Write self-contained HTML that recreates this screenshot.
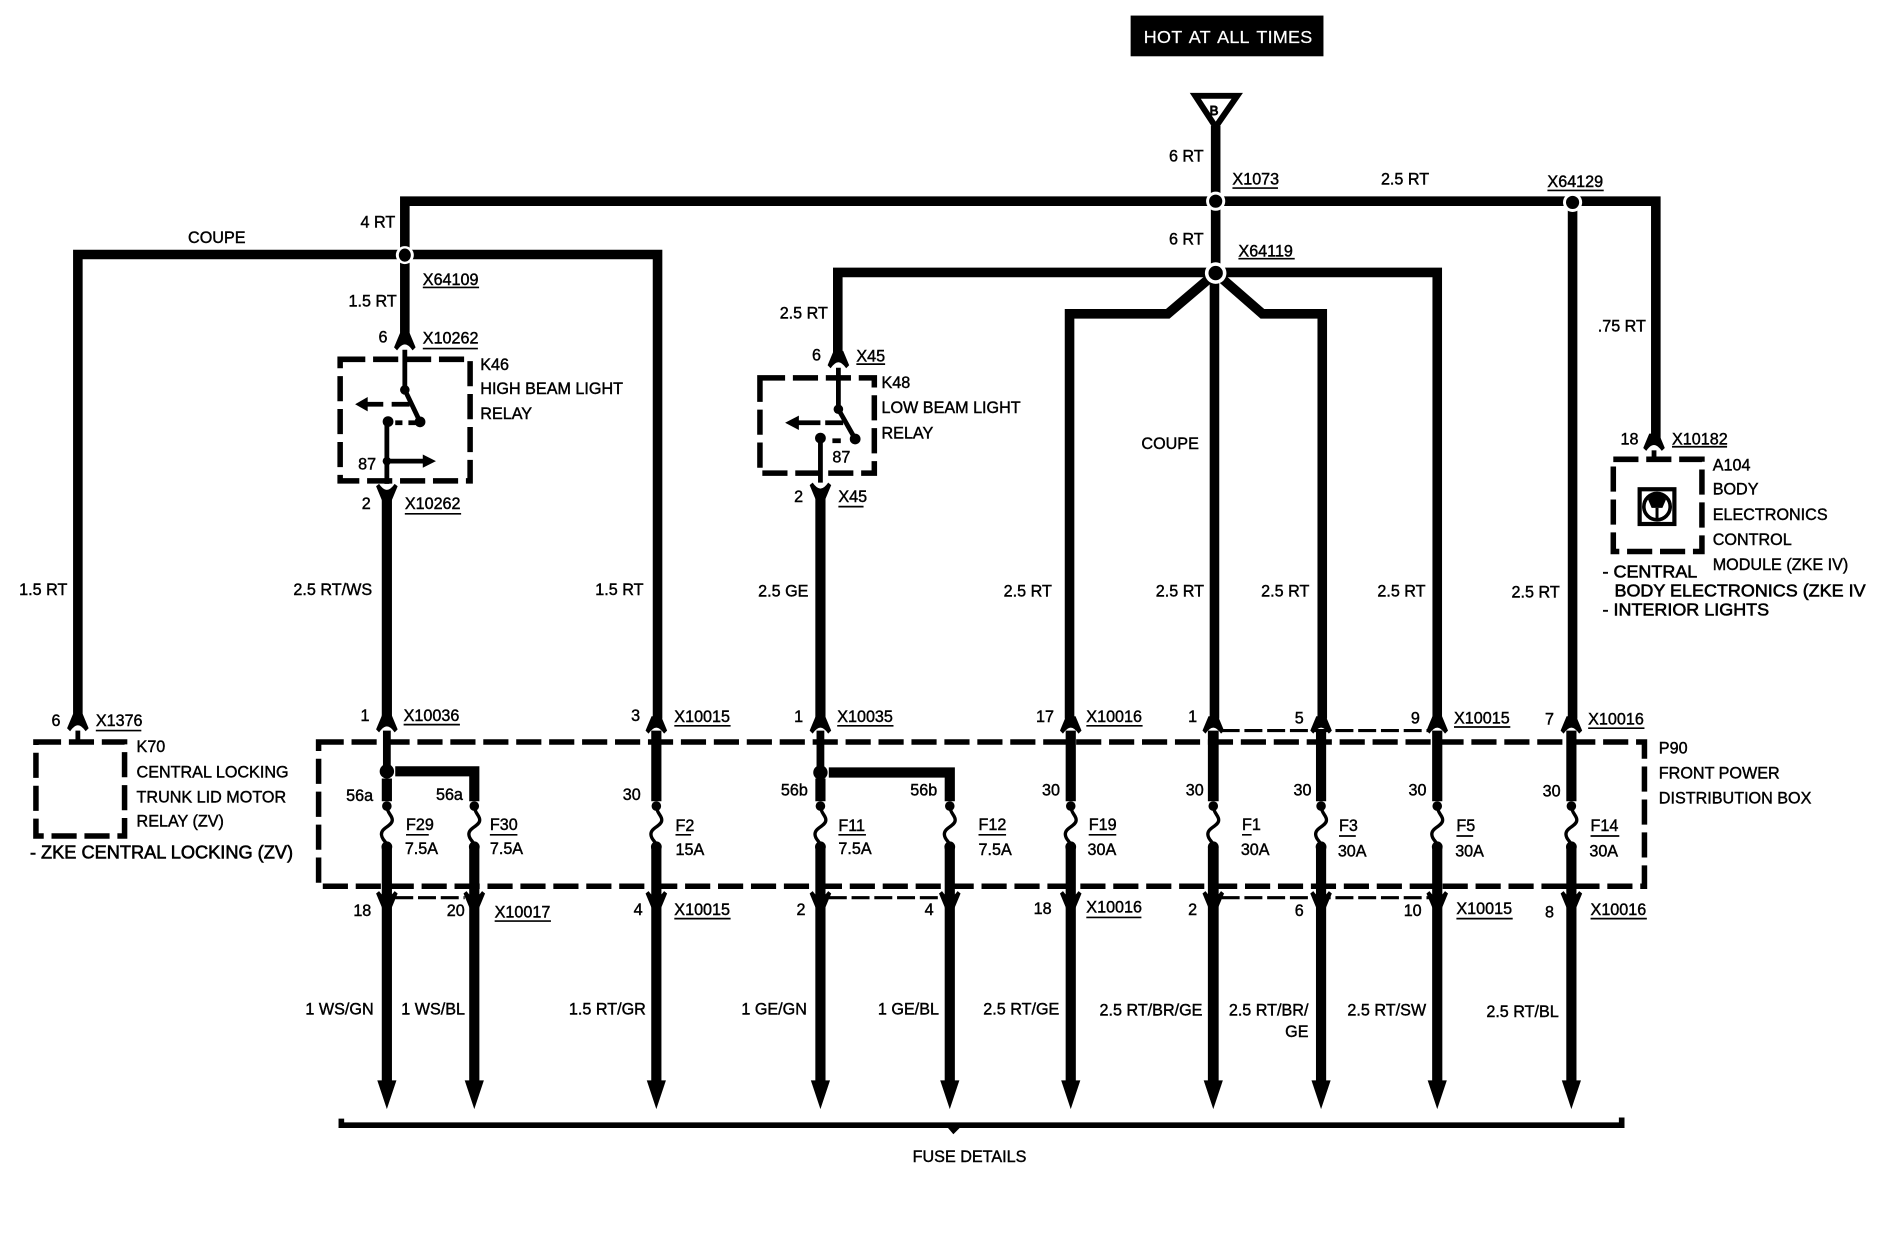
<!DOCTYPE html>
<html><head><meta charset="utf-8"><style>
html,body{margin:0;padding:0;background:#fff}
svg{display:block}
text{font-family:"Liberation Sans",sans-serif;font-size:13.5px;fill:#000;stroke:#000;stroke-width:.35}
.b{font-size:15px;stroke-width:.5}
.r{text-anchor:end}
.w{fill:none;stroke:#000;stroke-width:8;stroke-linejoin:miter}
.l{fill:none;stroke:#000;stroke-width:8.5}
.t{fill:none;stroke:#000;stroke-width:4}
.d{fill:none;stroke:#000;stroke-width:4.6;stroke-dasharray:21 6.5}
.n{fill:none;stroke:#000;stroke-width:2.6;stroke-dasharray:15 4}
.u{stroke:#000;stroke-width:1.4;fill:none}
.f{fill:none;stroke:#000;stroke-width:2.8}
</style></head><body>
<svg width="1878" height="1248" viewBox="0 0 1568 1042" xmlns="http://www.w3.org/2000/svg">
<defs>
<path id="tc" d="M-4 -8 L-9 4 L-6.5 6.5 Q-3 1.5 0 1.5 Q3 1.5 6.5 6.5 L9 4 L4 -8 Z" fill="#000"/>
<path id="bc" d="M-9 -4 L-6.5 -6 Q-3 -1 0 -1 Q3 -1 6.5 -6 L9 -4 L4 8 L-4 8 Z" fill="#000"/>
<polygon id="ah" points="-8,-18 8,-18 0,6" fill="#000"/>
<g id="fu"><circle cx="0" cy="0" r="4" fill="#000"/><path d="M0 0 C0 6 5 8 4.5 12 C4 17 -5 18 -4.5 24 C-4 29 0 29 0 34" class="f"/><circle cx="0" cy="34" r="4.5" fill="#000"/></g>
</defs>
<rect x="944" y="13" width="161" height="34" fill="#000"/>
<text x="955" y="36" style="fill:#fff;stroke:#fff;stroke-width:.2;font-size:15px;letter-spacing:.2px;word-spacing:2px">HOT AT ALL TIMES</text>
<polygon points="998,80 1033,80 1015,106" fill="#fff" stroke="#000" stroke-width="5"/>
<text x="1010" y="96" style="font-size:11px;stroke-width:.8">B</text>

<!-- main wires -->
<path class="w" d="M338 213V168H1382.5V368"/>
<path class="w" d="M65 600V212.5H549V600"/>
<path class="w" d="M338 213V284"/>
<path class="w" d="M1015 105V228"/>
<path class="w" d="M699.5 302V227.5H1200V600"/>
<path class="w" d="M1015 228L975 262H893V600"/>
<path class="w" d="M1015 228L1054 262H1104V600"/>
<path class="w" d="M1014 228V600"/>
<path class="w" d="M1313 169V600"/>
<path class="l" d="M323 412V600"/>
<path class="l" d="M685 412V600"/>
<g fill="#fff"><circle cx="338" cy="213" r="7.5"/><circle cx="1015" cy="168" r="8"/><circle cx="1313" cy="169" r="8"/><circle cx="1015" cy="228" r="9"/></g>
<g fill="#000"><ellipse cx="338" cy="213" rx="5" ry="5.5"/><circle cx="1015" cy="168" r="5.5"/><circle cx="1313" cy="169" r="5.5"/><circle cx="1015" cy="228" r="6"/></g>

<!-- distribution box -->
<rect class="d" x="266" y="619.5" width="1107" height="120.5"/>
<!-- lower wires -->
<g class="l">
<path style="stroke-width:6.5" d="M323 610V640"/><path d="M323 650V669M323 707V908"/>
<path d="M330 644H396V669"/><path d="M396 707V908"/>
<path d="M548 610V669M548 707V908"/>
<path style="stroke-width:6.5" d="M685 610V640"/><path d="M685 650V669M685 707V908"/>
<path d="M692 645H793V669"/><path d="M793 707V908"/>
<path d="M894 610V669M894 707V908"/>
<path style="stroke-width:9" d="M1013 610V669M1013 707V908"/>
<path d="M1103 610V669M1103 707V908"/>
<path d="M1200 610V669M1200 707V908"/>
<path d="M1312 610V669M1312 707V908"/>
</g>
<circle cx="323" cy="644" r="6" fill="#000"/><circle cx="685" cy="645" r="6" fill="#000"/>
<use href="#fu" x="323" y="673"/><use href="#fu" x="396" y="673"/><use href="#fu" x="548" y="673"/><use href="#fu" x="685" y="673"/><use href="#fu" x="793" y="673"/><use href="#fu" x="894" y="673"/><use href="#fu" x="1013" y="673"/><use href="#fu" x="1103" y="673"/><use href="#fu" x="1200" y="673"/><use href="#fu" x="1312" y="673"/>
<use href="#ah" x="323" y="920"/><use href="#ah" x="396" y="920"/><use href="#ah" x="548" y="920"/><use href="#ah" x="685" y="920"/><use href="#ah" x="793" y="920"/><use href="#ah" x="894" y="920"/><use href="#ah" x="1013" y="920"/><use href="#ah" x="1103" y="920"/><use href="#ah" x="1200" y="920"/><use href="#ah" x="1312" y="920"/>
<!-- connectors -->
<use href="#tc" x="65" y="604"/><use href="#tc" x="323" y="605"/><use href="#tc" x="548" y="606"/><use href="#tc" x="685" y="606"/><use href="#tc" x="894" y="606"/><use href="#tc" x="1013" y="606"/><use href="#tc" x="1103" y="606"/><use href="#tc" x="1200" y="606"/><use href="#tc" x="1312" y="606"/><use href="#tc" x="338" y="286"/><use href="#tc" x="700" y="301"/><use href="#tc" x="1381" y="370"/>
<use href="#bc" x="323" y="750"/><use href="#bc" x="396" y="750"/><use href="#bc" x="548" y="750"/><use href="#bc" x="685" y="750"/><use href="#bc" x="793" y="750"/><use href="#bc" x="894" y="750"/><use href="#bc" x="1013" y="750"/><use href="#bc" x="1103" y="750"/><use href="#bc" x="1200" y="750"/><use href="#bc" x="1312" y="750"/><use href="#bc" x="323" y="410"/><use href="#bc" x="685" y="409"/>
<path class="n" d="M330 749.5H388M692 749.5H787M1020 749.5H1194M1020 610H1194"/>

<!-- K46 -->
<rect class="d" x="284" y="300" width="108.5" height="101.5"/>
<path class="t" d="M338 292V325.5L350.7 352.2"/>
<circle cx="338" cy="325.5" r="4" fill="#000"/><circle cx="350.7" cy="352.2" r="4.5" fill="#000"/><circle cx="324" cy="352" r="4.5" fill="#000"/>
<path class="t" d="M323 404V352"/>
<path class="t" d="M330 353H336M341 353H347"/>
<path class="t" d="M305 337.5H320M327 337.5H342"/><polygon points="296.5,337.5 307,331.5 307,343.5" fill="#000"/>
<path class="t" d="M323 385H354"/><polygon points="364,385 353,379.5 353,390.5" fill="#000"/><circle cx="323" cy="385" r="3.5" fill="#000"/>
<!-- K48 -->
<rect class="d" x="634.5" y="315.5" width="95.5" height="79.5"/>
<path class="t" d="M700 307V341.7L714 366.5"/><circle cx="700" cy="341.7" r="4" fill="#000"/><circle cx="714" cy="366.5" r="4.5" fill="#000"/><circle cx="685" cy="365.8" r="4.5" fill="#000"/>
<path class="t" d="M685 403V366M695 368H702"/>
<path class="t" d="M664 353H685M689 353H704"/><polygon points="655.5,353 667,347 667,359" fill="#000"/>
<!-- K70 -->
<rect class="d" x="30" y="619.5" width="74" height="78.5"/>
<path class="t" d="M65 610V619"/>
<!-- A104 -->
<rect class="d" x="1347" y="383.5" width="74" height="77"/>
<path class="t" d="M1381 376V385"/>
<rect x="1369" y="408.5" width="29" height="29" fill="none" stroke="#000" stroke-width="3.5"/>
<circle cx="1383.5" cy="423" r="11" fill="none" stroke="#000" stroke-width="3"/><path d="M1376 417L1380 413H1387L1391 417L1388 424H1379Z" fill="#000"/><path d="M1383.5 424v9" stroke="#000" stroke-width="2.5"/>
<!-- bracket -->
<path class="w" style="stroke-width:4.7" d="M285 934V939.5H1354V933"/>
<path d="M790 940H803L796 947Z" fill="#000"/>

<!-- underlines -->
<path class="u" d="M1029 157H1067M1292 159H1339M353 240H400M353 291H399M338 429H385M1034 216H1081M715 304H739M700 423H721M1396 373H1442M80 610H118M337 605H384M563 606H610M699 606H746M907 606H954M1214 607H1261M1326 608H1373M339 697H358M409 697H432M564 697H577M700 697H723M817 697H840M909 697H932M1037 697H1045M1118 698H1132M1216 698H1230M1328 698H1352M413 769H460M563 767H610M907 766H953M1216 767H1263M1328 767H1375"/>

<text x="1005" y="135" class="r">6 RT</text><text x="1029" y="154">X1073</text><text x="1153" y="154">2.5 RT</text><text x="1292" y="156">X64129</text>
<text x="301" y="190">4 RT</text><text x="157" y="203">COUPE</text><text x="353" y="238">X64109</text><text x="291" y="256">1.5 RT</text>
<text x="316" y="286">6</text><text x="353" y="287">X10262</text><text x="401" y="309">K46</text><text x="401" y="329">HIGH BEAM LIGHT</text><text x="401" y="350">RELAY</text><text x="299" y="392">87</text><text x="302" y="425">2</text><text x="338" y="425">X10262</text>
<text x="976" y="204">6 RT</text><text x="1034" y="214">X64119</text><text x="651" y="266">2.5 RT</text><text x="678" y="301">6</text><text x="715" y="302">X45</text><text x="736" y="324">K48</text><text x="736" y="345">LOW BEAM LIGHT</text><text x="736" y="366">RELAY</text><text x="695" y="386">87</text><text x="663" y="419">2</text><text x="700" y="419">X45</text>
<text x="953" y="375">COUPE</text><text x="1334" y="277">.75 RT</text><text x="1353" y="371">18</text><text x="1396" y="371">X10182</text><text x="1430" y="393">A104</text><text x="1430" y="413">BODY</text><text x="1430" y="434">ELECTRONICS</text><text x="1430" y="455">CONTROL</text><text x="1430" y="476">MODULE (ZKE IV)</text>
<text x="1338" y="482" class="b">- CENTRAL</text><text x="1348" y="498" class="b">BODY ELECTRONICS (ZKE IV</text><text x="1338" y="514" class="b">- INTERIOR LIGHTS</text>

<text x="16" y="497">1.5 RT</text><text x="245" y="497">2.5 RT/WS</text><text x="497" y="497">1.5 RT</text><text x="633" y="498">2.5 GE</text><text x="838" y="498">2.5 RT</text><text x="965" y="498">2.5 RT</text><text x="1053" y="498">2.5 RT</text><text x="1150" y="498">2.5 RT</text><text x="1262" y="499">2.5 RT</text>

<text x="43" y="606">6</text><text x="80" y="606">X1376</text><text x="301" y="602">1</text><text x="337" y="602">X10036</text><text x="527" y="602">3</text><text x="563" y="603">X10015</text><text x="663" y="603">1</text><text x="699" y="603">X10035</text><text x="865" y="603">17</text><text x="907" y="603">X10016</text><text x="992" y="603">1</text><text x="1081" y="604">5</text><text x="1178" y="604">9</text><text x="1214" y="604">X10015</text><text x="1290" y="605">7</text><text x="1326" y="605">X10016</text>
<text x="114" y="628">K70</text><text x="114" y="649">CENTRAL LOCKING</text><text x="114" y="670">TRUNK LID MOTOR</text><text x="114" y="690">RELAY (ZV)</text><text x="25" y="717" class="b" style="font-size:15.2px">- ZKE CENTRAL LOCKING (ZV)</text>
<text x="1385" y="629">P90</text><text x="1385" y="650">FRONT POWER</text><text x="1385" y="671">DISTRIBUTION BOX</text>

<text x="289" y="669">56a</text><text x="364" y="668">56a</text><text x="520" y="668">30</text><text x="652" y="664">56b</text><text x="760" y="664">56b</text><text x="870" y="664">30</text><text x="990" y="664">30</text><text x="1080" y="664">30</text><text x="1176" y="664">30</text><text x="1288" y="665">30</text>

<text x="339" y="693">F29</text><text x="338" y="713">7.5A</text><text x="409" y="693">F30</text><text x="409" y="713">7.5A</text><text x="564" y="694">F2</text><text x="564" y="714">15A</text><text x="700" y="694">F11</text><text x="700" y="713">7.5A</text><text x="817" y="693">F12</text><text x="817" y="714">7.5A</text><text x="909" y="693">F19</text><text x="908" y="714">30A</text><text x="1037" y="693">F1</text><text x="1036" y="714">30A</text><text x="1118" y="694">F3</text><text x="1117" y="715">30A</text><text x="1216" y="694">F5</text><text x="1215" y="715">30A</text><text x="1328" y="694">F14</text><text x="1327" y="715">30A</text>

<text x="295" y="765">18</text><text x="373" y="765">20</text><text x="413" y="766">X10017</text><text x="529" y="764">4</text><text x="563" y="764">X10015</text><text x="665" y="764">2</text><text x="772" y="764">4</text><text x="863" y="763">18</text><text x="907" y="762">X10016</text><text x="992" y="764">2</text><text x="1081" y="765">6</text><text x="1172" y="765">10</text><text x="1216" y="763">X10015</text><text x="1290" y="766">8</text><text x="1328" y="764">X10016</text>

<text x="255" y="847">1 WS/GN</text><text x="335" y="847">1 WS/BL</text><text x="475" y="847">1.5 RT/GR</text><text x="619" y="847">1 GE/GN</text><text x="733" y="847">1 GE/BL</text><text x="821" y="847">2.5 RT/GE</text><text x="918" y="848">2.5 RT/BR/GE</text><text x="1026" y="848">2.5 RT/BR/</text><text x="1073" y="866">GE</text><text x="1125" y="848">2.5 RT/SW</text><text x="1241" y="849">2.5 RT/BL</text>
<text x="762" y="970">FUSE DETAILS</text>
</svg>
</body></html>
